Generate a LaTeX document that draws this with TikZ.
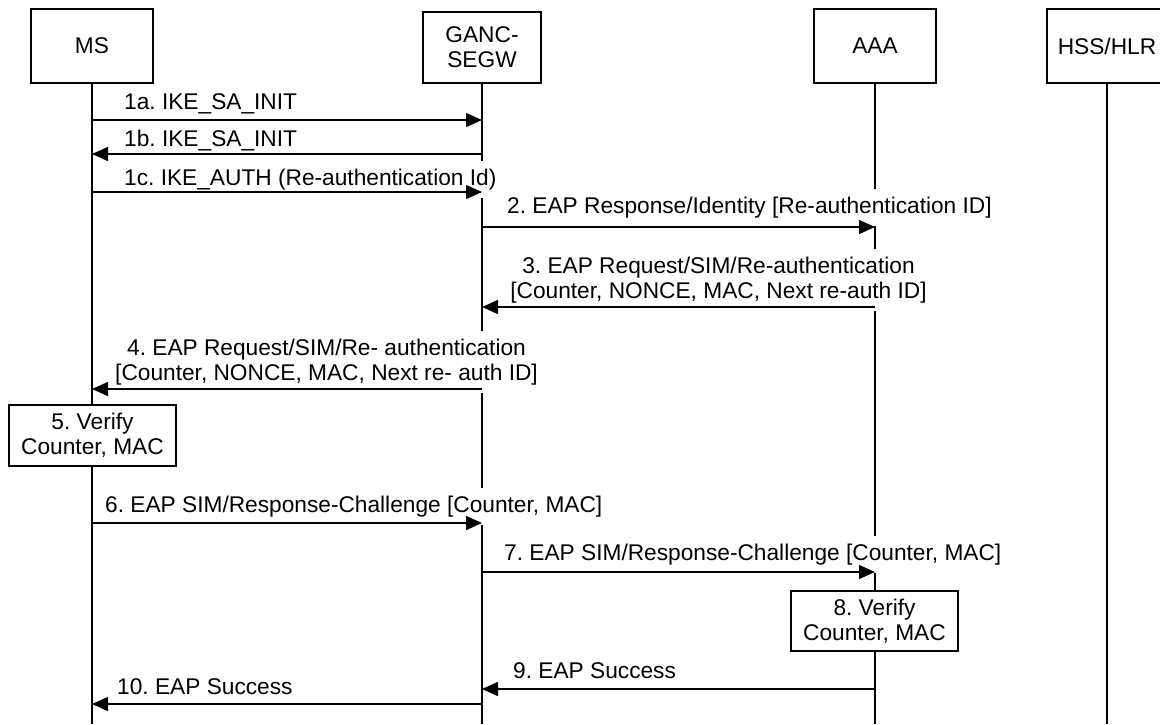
\documentclass[tikz,border=0pt]{standalone}
\usepackage{fontspec}
\setmainfont{Liberation Sans}
\usetikzlibrary{arrows.meta}
\newcommand{\msgfont}{\fontsize{22.7}{25}\selectfont\frenchspacing}

\begin{document}
\begin{tikzpicture}[
  x=1pt, y=-1pt,
  entity/.style={draw, line width=1.3pt, fill=white, minimum width=122pt, minimum height=74pt, align=center, inner sep=0pt, font=\msgfont},
  check/.style={draw, line width=1.3pt, fill=white, minimum width=167pt, minimum height=61pt, align=center, inner sep=0pt, font=\msgfont},
  lifeline/.style={line width=1.6pt},
  msg/.style={line width=1.5pt, -{Triangle[length=16pt, width=14pt]}},
  lbl/.style={fill=white, inner xsep=2pt, inner ysep=8pt, font=\msgfont}
]
  \useasboundingbox (0,0) rectangle (1160,724);

  \node[entity] (ms) at (92,46) {MS};
  \node[entity, minimum width=118pt, minimum height=71pt] (ganc) at (482,47.5) {GANC-\\SEGW};
  \node[entity] (aaa) at (875,46) {AAA};
  \node[entity, minimum width=120pt] (hss) at (1107,46) {HSS/HLR};

  \coordinate (bottom) at (0,724);
  \foreach \n in {ms,ganc,aaa,hss}
    \draw[lifeline] (\n.south) -- (\n.south |- bottom);

  \node[lbl, anchor=base west] (l1a) at (122,109) {1a. IKE\_SA\_INIT};
  \node[lbl, anchor=base west] (l1b) at (122,146) {1b. IKE\_SA\_INIT};
  \node[lbl, anchor=base west] (l1c) at (122,185) {1c. IKE\_AUTH (Re-authentication Id)};
  \node[lbl, anchor=base west] (l2) at (505,213) {2. EAP Response/Identity [Re-authentication ID]};
  \node[lbl, align=center] (l3) at (718.5,280) {3. EAP Request/SIM/Re-authentication\\{}[Counter, NONCE, MAC, Next re-auth ID]};
  \node[lbl, align=center] (l4) at (326.5,362) {4. EAP Request/SIM/Re- authentication\\{}[Counter, NONCE, MAC, Next re- auth ID]};
  \node[lbl, anchor=base west] (l6) at (103,512) {6. EAP SIM/Response-Challenge [Counter, MAC]};
  \node[lbl, anchor=base west] (l7) at (502,560) {7. EAP SIM/Response-Challenge [Counter, MAC]};
  \node[lbl, anchor=base west] (l9) at (511,678) {9. EAP Success};
  \node[lbl, anchor=base west] (l10) at (115,694) {10. EAP Success};

  \draw[msg] (ms |- 0,120) -- (ganc |- 0,120);
  \draw[msg] (ganc |- 0,154) -- (ms |- 0,154);
  \draw[msg] (ms |- 0,192) -- (ganc |- 0,192);
  \draw[msg] (ganc |- 0,227) -- (aaa |- 0,227);
  \draw[msg] (aaa |- 0,307) -- (ganc |- 0,307);
  \draw[msg] (ganc |- 0,389) -- (ms |- 0,389);
  \draw[msg] (ms |- 0,523) -- (ganc |- 0,523);
  \draw[msg] (ganc |- 0,572) -- (aaa |- 0,572);
  \draw[msg] (aaa |- 0,689) -- (ganc |- 0,689);
  \draw[msg] (ganc |- 0,704) -- (ms |- 0,704);

  \node[check] (v5) at (92.5,435.5) {5. Verify\\Counter, MAC};
  \node[check, minimum height=60pt] (v8) at (874.5,621) {8. Verify\\Counter, MAC};
\end{tikzpicture}
\end{document}
